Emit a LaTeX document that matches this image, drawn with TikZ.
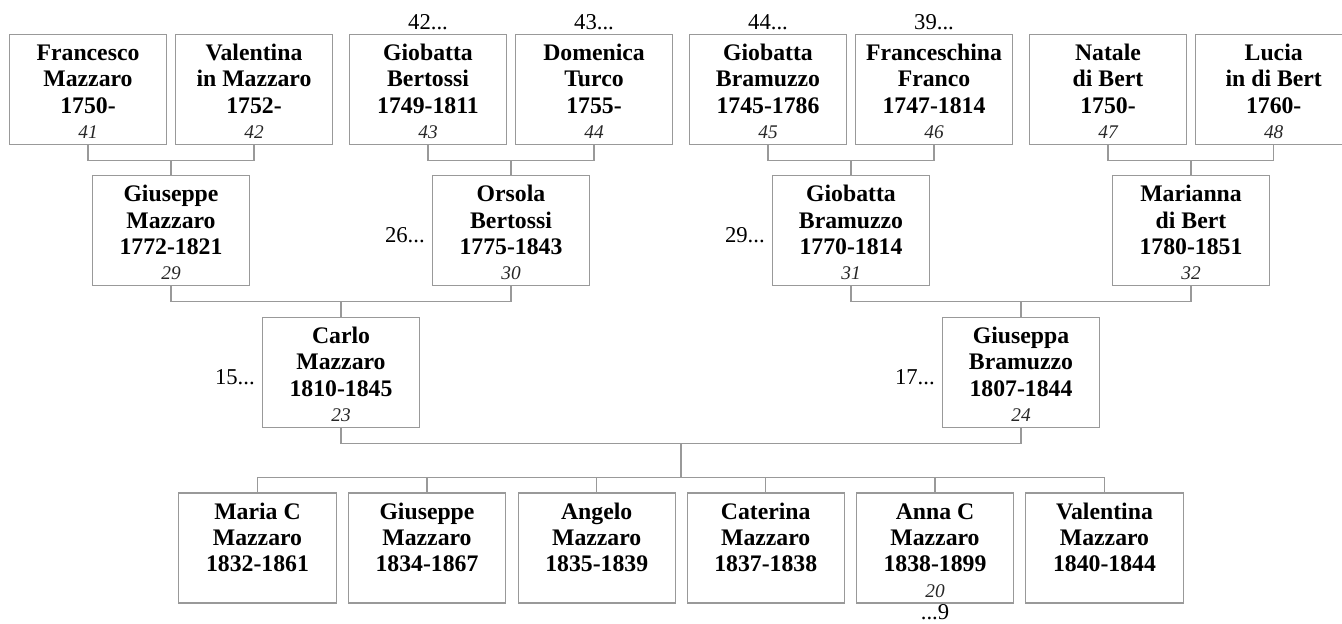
\documentclass[tikz,border=0pt]{standalone}
\usepackage{fontspec}
\setmainfont{Liberation Serif}
\usepackage{tikz}
\usepackage{xcolor}
\tikzset{
Scheda/.style={
 draw=gray!80, 
 line width=0.8pt, 
 inner sep=0pt, 
 outer sep=0pt, 
 minimum width=118pt, 
 minimum height=82.5pt
 },
Legame/.style={
 draw=gray!80, 
 line width=0.8pt
 },
Rinvio/.style={
 font=\fontsize{17}{20}\selectfont, 
 inner sep=1pt
 }
}
\newcommand{\Persona}[4]{\parbox[c][82.5pt][t]{118pt}{\centering\bfseries\fontsize{17.8}{19.8}\selectfont\rule{0pt}{19.5pt}#1\\#2\\#3\par\vfill{\mdseries\itshape\color{black!85}\fontsize{14.5}{16}\selectfont\rule[-4.5pt]{0pt}{0pt}#4\par}}}

\begin{document}
\begin{tikzpicture}[x=0.75pt,y=-0.75pt]
\useasboundingbox (0,0) rectangle (1342,624);
\node[Scheda] (p41) at (88,89.3) {\Persona{Francesco}{Mazzaro}{1750-}{41}};
\node[Scheda] (p42) at (254,89.3) {\Persona{Valentina}{in Mazzaro}{1752-}{42}};
\node[Scheda] (p43) at (428,89.3) {\Persona{Giobatta}{Bertossi}{1749-1811}{43}};
\node[Scheda] (p44) at (594,89.3) {\Persona{Domenica}{Turco}{1755-}{44}};
\node[Scheda] (p45) at (768,89.3) {\Persona{Giobatta}{Bramuzzo}{1745-1786}{45}};
\node[Scheda] (p46) at (934,89.3) {\Persona{Franceschina}{Franco}{1747-1814}{46}};
\node[Scheda] (p47) at (1108,89.3) {\Persona{Natale}{di Bert}{1750-}{47}};
\node[Scheda] (p48) at (1273.7,89.3) {\Persona{Lucia}{in di Bert}{1760-}{48}};
\node[Scheda] (p29) at (171,230.9) {\Persona{Giuseppe}{Mazzaro}{1772-1821}{29}};
\node[Scheda] (p30) at (511,230.9) {\Persona{Orsola}{Bertossi}{1775-1843}{30}};
\node[Scheda] (p31) at (851,230.9) {\Persona{Giobatta}{Bramuzzo}{1770-1814}{31}};
\node[Scheda] (p32) at (1191,230.9) {\Persona{Marianna}{di Bert}{1780-1851}{32}};
\node[Scheda] (p23) at (341,372.2) {\Persona{Carlo}{Mazzaro}{1810-1845}{23}};
\node[Scheda] (p24) at (1021,372.2) {\Persona{Giuseppa}{Bramuzzo}{1807-1844}{24}};
\node[Scheda] (c1) at (257.5,548) {\Persona{Maria C}{Mazzaro}{1832-1861}{}};
\node[Scheda] (c2) at (427,548) {\Persona{Giuseppe}{Mazzaro}{1834-1867}{}};
\node[Scheda] (c3) at (596.7,548) {\Persona{Angelo}{Mazzaro}{1835-1839}{}};
\node[Scheda] (c4) at (765.7,548) {\Persona{Caterina}{Mazzaro}{1837-1838}{}};
\node[Scheda] (c5) at (935,548) {\Persona{Anna C}{Mazzaro}{1838-1899}{20}};
\node[Scheda] (c6) at (1104.5,548) {\Persona{Valentina}{Mazzaro}{1840-1844}{}};
\node[Rinvio,anchor=south] (r43) at ([yshift=2pt]p43.north) {42...};
\node[Rinvio,anchor=south] (r44) at ([yshift=2pt]p44.north) {43...};
\node[Rinvio,anchor=south] (r45) at ([yshift=2pt]p45.north) {44...};
\node[Rinvio,anchor=south] (r46) at ([yshift=2pt]p46.north) {39...};
\node[Rinvio,anchor=east] (r30) at ([xshift=-4.5pt,yshift=-3.5pt]p30.west) {26...};
\node[Rinvio,anchor=east] (r31) at ([xshift=-4.5pt,yshift=-3.5pt]p31.west) {29...};
\node[Rinvio,anchor=east] (r23) at ([xshift=-4.5pt,yshift=-3.5pt]p23.west) {15...};
\node[Rinvio,anchor=east] (r24) at ([xshift=-4.5pt,yshift=-3.5pt]p24.west) {17...};
\node[Rinvio,anchor=north,inner sep=0pt] (r20) at ([yshift=-1pt]c5.south) {...9};
\draw[Legame] (p41.south) -- ++(0,16) -| (p42.south);
\draw[Legame] (p29.north) -- ++(0,-16);
\draw[Legame] (p43.south) -- ++(0,16) -| (p44.south);
\draw[Legame] (p30.north) -- ++(0,-16);
\draw[Legame] (p45.south) -- ++(0,16) -| (p46.south);
\draw[Legame] (p31.north) -- ++(0,-16);
\draw[Legame] (p47.south) -- ++(0,16) -| (p48.south);
\draw[Legame] (p32.north) -- ++(0,-16);
\draw[Legame] (p29.south) -- ++(0,15.5) -| (p30.south);
\draw[Legame] (p23.north) -- ++(0,-16.4);
\draw[Legame] (p31.south) -- ++(0,15.5) -| (p32.south);
\draw[Legame] (p24.north) -- ++(0,-16.4);
\draw[Legame] (p23.south) -- ++(0,16) -| (p24.south);
\coordinate (fratelli) at (681,477.7);
\draw[Legame] (fratelli) -- ++(0,-35);
\foreach \f in {c1,c2,c3,c4,c5,c6}
 \draw[Legame] (\f.north) |- (fratelli);
\end{tikzpicture}
\end{document}
